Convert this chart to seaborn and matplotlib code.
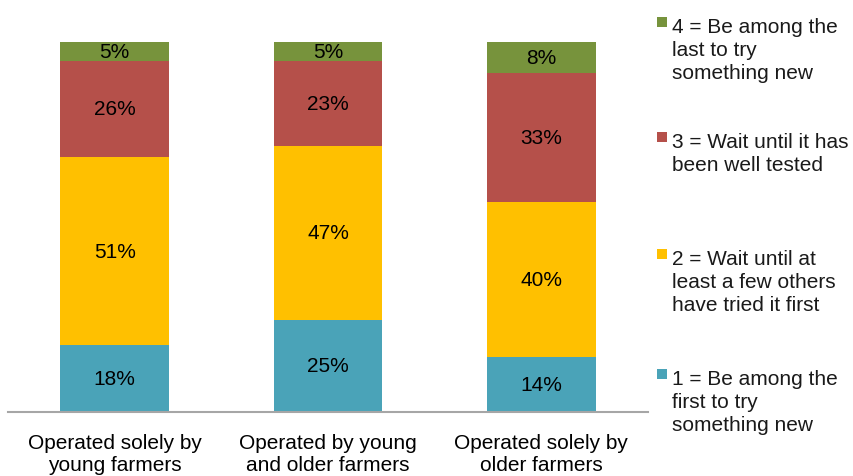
import numpy as np
import pandas as pd
import seaborn as sns
import matplotlib
matplotlib.use("Agg")
import matplotlib.pyplot as plt
from matplotlib.patches import Rectangle

# data (percent of farms, per group)
categories = ["Operated solely by\nyoung farmers",
              "Operated by young\nand older farmers",
              "Operated solely by\nolder farmers"]
first_to_try = [18, 25, 14]
wait_few_tried = [51, 47, 40]
wait_well_tested = [26, 23, 33]
last_to_try = [5, 5, 8]

series_names = ["1 = Be among the\nfirst to try\nsomething new",
                "2 = Wait until at\nleast a few others\nhave tried it first",
                "3 = Wait until it has\nbeen well tested",
                "4 = Be among the\nlast to try\nsomething new"]
series_colors = ["#4AA3B8", "#FFC000", "#B5504A", "#77933C"]

df = pd.DataFrame({
    "group": categories,
    series_names[0]: first_to_try,
    series_names[1]: wait_few_tried,
    series_names[2]: wait_well_tested,
    series_names[3]: last_to_try,
}).set_index("group")

# 100% stacked: scale each bar to its own total
share = df.div(df.sum(axis=1), axis=0) * 100
tops = share.cumsum(axis=1)
bottoms = tops - share

sns.set_theme(style="white")
plt.rcParams["font.family"] = ["Liberation Sans", "DejaVu Sans"]

W, H = 854, 477
fig = plt.figure(figsize=(W / 100, H / 100), dpi=100)
ax = fig.add_axes([8 / W, 64 / H, 640 / W, 370 / H])

# draw from the top of the stack down so lower segments cover upper ones
for name, color in reversed(list(zip(series_names, series_colors))):
    sns.barplot(x=list(range(len(categories))), y=tops[name].values, color=color,
                width=0.51, saturation=1, linewidth=0, ax=ax, native_scale=True)

for i, grp in enumerate(categories):
    for name in series_names:
        mid = bottoms.loc[grp, name] + share.loc[grp, name] / 2
        ax.text(i, mid, f"{df.loc[grp, name]}%", ha="center", va="center",
                fontsize=15, color="black")

ax.set_xlim(-0.5, len(categories) - 0.5)
ax.set_ylim(0, 100)
ax.set_xticks(range(len(categories)))
ax.set_xticklabels(categories, fontsize=15, color="black", linespacing=1.2)
ax.tick_params(axis="x", length=0, pad=15)
ax.set_yticks([])
ax.set_xlabel("")
ax.set_ylabel("")
for side in ["left", "right", "top"]:
    ax.spines[side].set_visible(False)
ax.spines["bottom"].set_color("#A6A6A6")
ax.spines["bottom"].set_linewidth(1.5)

# legend, top entry = last series
square_tops = [18, 133, 250, 370]
for top_px, name, color in zip(square_tops, reversed(series_names), reversed(series_colors)):
    fig.patches.append(Rectangle((657 / W, 1 - (top_px + 10) / H), 10 / W, 10 / H,
                                 transform=fig.transFigure, facecolor=color,
                                 edgecolor="none"))
    fig.text(672 / W, 1 - top_px / H, name, fontsize=15, color="#1A1A1A",
             ha="left", va="top", linespacing=1.28)

fig.savefig("out.png", dpi=100)
